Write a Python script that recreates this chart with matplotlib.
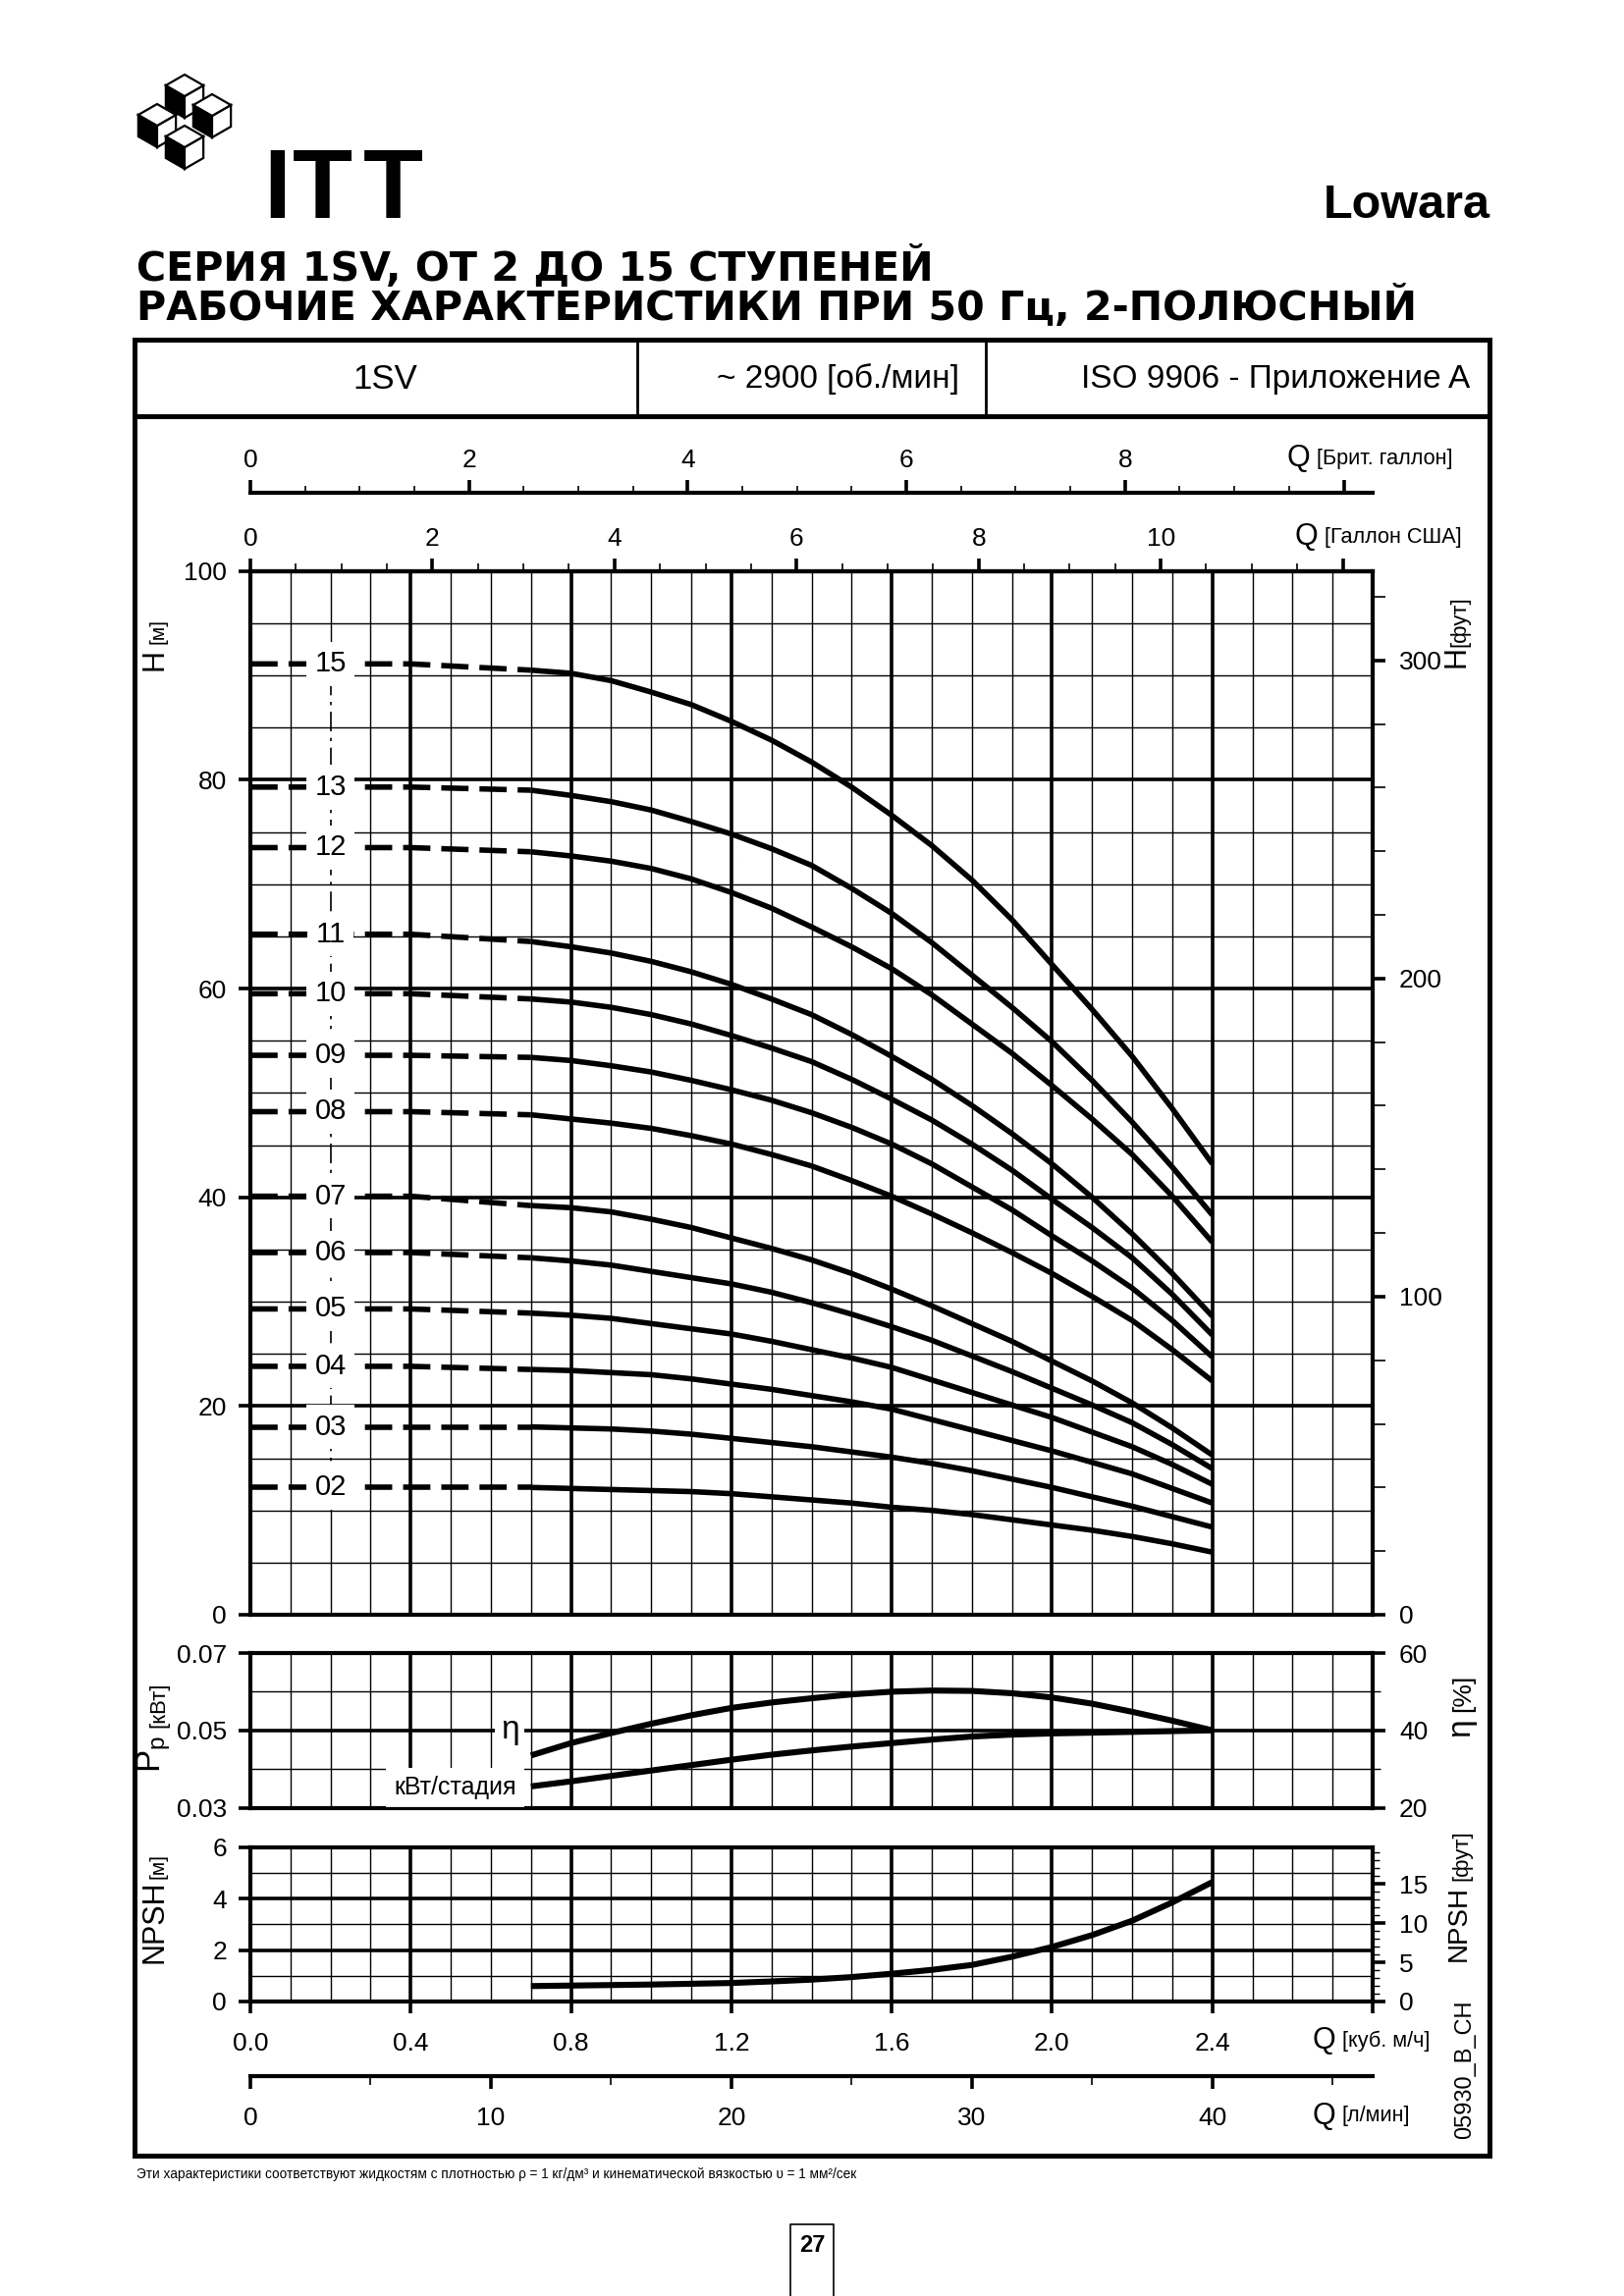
import matplotlib.pyplot as plt
import numpy as np
from matplotlib.patches import Polygon, Rectangle

plt.rcParams['font.family'] = ['Liberation Sans', 'DejaVu Sans']
plt.rcParams['mathtext.default'] = 'regular'
NARROW = ['Liberation Sans Narrow', 'Liberation Sans', 'DejaVu Sans']

W, H = 1654, 2339
PT = 72 / 200  # пункты на пиксель при dpi=200

# ---------------- данные ----------------
# подача, м3/ч (рабочая часть кривых)
q = [0.7, 0.8, 0.9, 1.0, 1.1, 1.2, 1.3, 1.4, 1.5, 1.6, 1.7, 1.8, 1.9, 2.0, 2.1, 2.2, 2.3, 2.4]
q_dash = [0.0, 0.4, 0.7]

stages = ['15', '13', '12', '11', '10', '09', '08', '07', '06', '05', '04', '03', '02']
h_zero = [91.1, 79.3, 73.5, 65.2, 59.5, 53.6, 48.2, 40.1, 34.7, 29.3, 23.8, 18.0, 12.2]

h_15 = [90.5, 90.2, 89.5, 88.4, 87.2, 85.6, 83.8, 81.7, 79.3, 76.6, 73.7, 70.4, 66.6, 62.3, 58.0, 53.5, 48.5, 43.2]
h_13 = [79.0, 78.5, 77.9, 77.1, 76.0, 74.8, 73.4, 71.8, 69.6, 67.2, 64.4, 61.3, 58.2, 54.9, 51.2, 47.2, 42.9, 38.3]
h_12 = [73.1, 72.7, 72.2, 71.5, 70.5, 69.2, 67.7, 65.9, 64.0, 61.9, 59.4, 56.6, 53.8, 50.7, 47.5, 44.1, 40.1, 35.7]
h_11 = [64.5, 64.0, 63.4, 62.6, 61.6, 60.4, 59.0, 57.5, 55.6, 53.5, 51.3, 48.8, 46.1, 43.2, 40.0, 36.5, 32.7, 28.6]
h_10 = [59.0, 58.7, 58.2, 57.5, 56.6, 55.5, 54.3, 53.0, 51.3, 49.4, 47.4, 45.1, 42.6, 39.8, 37.1, 34.2, 30.7, 26.8]
h_09 = [53.4, 53.1, 52.6, 52.0, 51.2, 50.3, 49.3, 48.1, 46.7, 45.1, 43.2, 41.0, 38.8, 36.3, 33.9, 31.3, 28.2, 24.7]
h_08 = [47.9, 47.5, 47.1, 46.6, 45.9, 45.1, 44.1, 43.0, 41.6, 40.1, 38.4, 36.6, 34.7, 32.7, 30.5, 28.2, 25.4, 22.4]
h_07 = [39.2, 39.0, 38.6, 37.9, 37.1, 36.1, 35.1, 34.0, 32.7, 31.2, 29.6, 27.9, 26.2, 24.3, 22.4, 20.3, 17.9, 15.3]
h_06 = [34.2, 33.9, 33.5, 32.9, 32.3, 31.7, 30.9, 29.9, 28.8, 27.6, 26.3, 24.8, 23.3, 21.7, 20.1, 18.4, 16.3, 14.0]
h_05 = [28.9, 28.7, 28.4, 27.9, 27.4, 26.9, 26.2, 25.4, 24.6, 23.7, 22.5, 21.3, 20.1, 18.9, 17.5, 16.1, 14.4, 12.5]
h_04 = [23.5, 23.4, 23.2, 23.0, 22.6, 22.1, 21.6, 21.0, 20.4, 19.7, 18.7, 17.7, 16.7, 15.7, 14.6, 13.5, 12.1, 10.7]
h_03 = [18.0, 17.9, 17.8, 17.6, 17.3, 16.9, 16.5, 16.1, 15.6, 15.1, 14.5, 13.8, 13.0, 12.2, 11.3, 10.4, 9.4, 8.4]
h_02 = [12.2, 12.1, 12.0, 11.9, 11.8, 11.6, 11.3, 11.0, 10.7, 10.3, 10.0, 9.6, 9.1, 8.6, 8.1, 7.5, 6.8, 6.0]
heads = [h_15, h_13, h_12, h_11, h_10, h_09, h_08, h_07, h_06, h_05, h_04, h_03, h_02]

eta = [33.5, 36.7, 39.3, 41.7, 43.9, 45.8, 47.2, 48.3, 49.3, 50.0, 50.3, 50.2, 49.6, 48.5, 46.9, 44.8, 42.5, 40.0]  # %
p_stage = [0.0355, 0.0368, 0.0382, 0.0396, 0.0410, 0.0424, 0.0437, 0.0448, 0.0458, 0.0467,
           0.0476, 0.0484, 0.0489, 0.0492, 0.0494, 0.0496, 0.0498, 0.0500]  # кВт
npsh = [0.60, 0.62, 0.64, 0.66, 0.69, 0.72, 0.78, 0.85, 0.95, 1.08, 1.23, 1.42, 1.74, 2.12, 2.58, 3.14, 3.85, 4.64]  # м

# пересчёт единиц
M3H_USG = 4.403
M3H_IMPG = 3.666
M3H_LMIN = 16.667
M_FT = 1 / 0.3048

fig = plt.figure(figsize=(W / 200, H / 200), dpi=200)

# страница в пиксельных координатах
pg = fig.add_axes([0, 0, 1, 1])
pg.set_xlim(0, W)
pg.set_ylim(H, 0)
pg.axis('off')


def px_axes(x0, y0, x1, y1):
    return fig.add_axes([x0 / W, 1 - y1 / H, (x1 - x0) / W, (y1 - y0) / H])


# --- логотип ---
def cube(cx, cy, s):
    k = 0.87 * s
    top = [(cx, cy - s), (cx + k, cy - s / 2), (cx, cy), (cx - k, cy - s / 2)]
    left = [(cx - k, cy - s / 2), (cx, cy), (cx, cy + s), (cx - k, cy + s / 2)]
    right = [(cx, cy), (cx + k, cy - s / 2), (cx + k, cy + s / 2), (cx, cy + s)]
    pg.add_patch(Polygon(left, closed=True, fc='black', ec='black', lw=0.8))
    pg.add_patch(Polygon(right, closed=True, fc='white', ec='black', lw=0.8))
    pg.add_patch(Polygon(top, closed=True, fc='white', ec='black', lw=0.8))


for cx, cy in [(188, 98), (160, 128), (216, 118), (188, 150)]:
    cube(cx, cy, 22)

# буквы ITT с разрядкой
for x, ch in [(268, 'I'), (298, 'T'), (370, 'T')]:
    pg.text(x, 222, ch, fontsize=36, fontweight='bold', va='baseline', ha='left')
pg.text(1518, 222, 'Lowara', fontsize=17.5, fontweight='bold', va='baseline', ha='right')
pg.text(139, 273, 'СЕРИЯ 1SV, ОТ 2 ДО 15 СТУПЕНЕЙ', fontsize=14.8, fontweight='bold',
        family='DejaVu Sans', va='center', ha='left')
pg.text(139, 313, 'РАБОЧИЕ ХАРАКТЕРИСТИКИ ПРИ 50 Гц, 2-ПОЛЮСНЫЙ', fontsize=14.8, fontweight='bold',
        family='DejaVu Sans', va='center', ha='left')

# --- рамка и шапка ---
pg.add_patch(Rectangle((137, 346), 1517 - 137, 2196 - 346, fill=False, ec='black', lw=1.8))
pg.plot([137, 1517], [424, 424], color='black', lw=1.8)
pg.plot([649, 649], [346, 424], color='black', lw=1.0)
pg.plot([1004, 1004], [346, 424], color='black', lw=1.0)
pg.text(392, 386, '1SV', fontsize=12.5, family=NARROW, ha='center', va='center')
pg.text(853, 386, '~ 2900 [об./мин]', fontsize=12, family=NARROW, ha='center', va='center')
pg.text(1299, 386, 'ISO 9906 - Приложение A', fontsize=12, family=NARROW, ha='center', va='center')


def unit_label(x, y, q_text, unit):
    pg.text(x, y, q_text, fontsize=11, ha='left', va='center')
    pg.text(x + 31, y, unit, fontsize=7.8, family=NARROW, ha='left', va='center')


unit_label(1310, 467, 'Q', '[Брит. галлон]')
unit_label(1318, 547, 'Q', '[Галлон США]')
unit_label(1336, 2079, 'Q', '[куб. м/ч]')
unit_label(1336, 2156, 'Q', '[л/мин]')

# подписи осей
pg.text(157, 672, 'H', fontsize=11, rotation=90, ha='center', va='center')
pg.text(161, 643, '[м]', fontsize=7.5, rotation=90, ha='center', va='center')
pg.text(1484, 669, 'H', fontsize=11, rotation=90, ha='center', va='center')
pg.text(1487, 633, '[фут]', fontsize=8, rotation=90, ha='center', va='center')
pg.text(157, 1787, '$P_p$', fontsize=12.5, rotation=90, ha='center', va='center')
pg.text(162, 1737, '[кВт]', fontsize=8, rotation=90, ha='center', va='center')
pg.text(1488, 1760, 'η', fontsize=12, rotation=90, ha='center', va='center')
pg.text(1490, 1725, '[%]', fontsize=9.5, rotation=90, ha='center', va='center')
pg.text(157, 1958, 'NPSH', fontsize=11, family=NARROW, rotation=90, ha='center', va='center')
pg.text(161, 1901, '[м]', fontsize=7.5, rotation=90, ha='center', va='center')
pg.text(1486, 1960, 'NPSH', fontsize=10, family=NARROW, rotation=90, ha='center', va='center')
pg.text(1489, 1890, '[фут]', fontsize=8, rotation=90, ha='center', va='center')
pg.text(1492, 2108, '05930_B_CH', fontsize=8.5, rotation=90, ha='center', va='center')

pg.text(139, 2215, 'Эти характеристики соответствуют жидкостям с плотностью ρ = 1 кг/дм³ '
        'и кинематической вязкостью υ = 1 мм²/сек', fontsize=4.9, family=NARROW,
        ha='left', va='center')

# номер страницы
pg.plot([805, 805, 849, 849], [2339, 2266, 2266, 2339], color='black', lw=0.6)
pg.text(827, 2287, '27', fontsize=8.5, fontweight='bold', ha='center', va='center')

THICK, THIN, CURVE = 1.3, 0.5, 2.0


def vgrid(ax, skip=()):
    for i in range(1, 28):
        if i in skip:
            continue
        ax.axvline(i / 10, color='black', lw=THICK if i % 4 == 0 else THIN, zorder=1)


def style(ax):
    for s in ax.spines.values():
        s.set_linewidth(1.5)
    ax.set_xlim(0, 2.8)


def left_ticks(ax):
    ax.tick_params(axis='y', which='major', length=12 * PT, width=THICK, labelsize=9.5, pad=4.3)


def right_ticks(ax, minor_w=0.6, minor_len=13):
    ax.tick_params(axis='y', which='major', length=13 * PT, width=THICK, labelsize=9.5, pad=5)
    ax.tick_params(axis='y', which='minor', length=minor_len * PT, width=minor_w)


# --- основной график H(Q) ---
ax_h = px_axes(255, 581.7, 1398, 1645)
style(ax_h)
ax_h.set_ylim(0, 100)
ax_h.set_xticks([])
ax_h.set_yticks(range(0, 101, 20))
left_ticks(ax_h)
vgrid(ax_h, skip=(2,))
for j in range(1, 20):
    ax_h.axhline(5 * j, color='black', lw=THICK if j % 4 == 0 else THIN, zorder=1)
# вертикаль Q=0.2 с подписями ступеней
ax_h.plot([0.2, 0.2], [0, min(h_zero)], color='black', lw=THIN, zorder=1)
ax_h.plot([0.2, 0.2], [max(h_zero), 100], color='black', lw=THIN, zorder=1)
ax_h.plot([0.2, 0.2], [min(h_zero), max(h_zero)], color='black', lw=0.6,
          ls=(0, (12, 4, 2, 4)), zorder=1.5)

for name, h0, hs in zip(stages, h_zero, heads):
    ax_h.plot(q_dash, [h0, h0, hs[0]], color='black', lw=CURVE, ls=(0, (5, 2)), zorder=3)
    ax_h.plot(q, hs, color='black', lw=CURVE, solid_capstyle='butt', solid_joinstyle='round', zorder=3)
    ax_h.text(0.2, h0, name, fontsize=10.5, ha='center', va='center', zorder=4,
              bbox=dict(facecolor='white', edgecolor='none', pad=3))

ax_hf = ax_h.twinx()
ax_hf.set_ylim(0, 100 * M_FT)
ax_hf.set_yticks([0, 100, 200, 300])
ax_hf.set_yticks(np.arange(0, 321, 20), minor=True)
right_ticks(ax_hf)

sec = ax_h.secondary_xaxis('top', functions=(lambda x: x * M3H_USG, lambda g: g / M3H_USG))
sec.set_xticks(range(0, 13, 2), labels=['0', '2', '4', '6', '8', '10', ''])
sec.set_xticks(np.arange(0, 12.1, 0.5), minor=True)
sec.tick_params(which='major', length=12.7 * PT, width=THICK, labelsize=9.5, pad=3)
sec.tick_params(which='minor', length=7.7 * PT, width=0.6)
sec.spines['top'].set_linewidth(1.5)

# шкала британских галлонов
ax_b = px_axes(255, 502, 1398, 503)
ax_b.set_xlim(0, 2.8 * M3H_IMPG)
for s in ['left', 'right', 'bottom']:
    ax_b.spines[s].set_visible(False)
ax_b.spines['top'].set_linewidth(1.5)
ax_b.patch.set_visible(False)
ax_b.set_yticks([])
ax_b.xaxis.tick_top()
ax_b.set_xticks(range(0, 11, 2), labels=['0', '2', '4', '6', '8', ''])
ax_b.set_xticks(np.arange(0, 10.1, 0.5), minor=True)
ax_b.tick_params(which='major', length=12.7 * PT, width=THICK, labelsize=9.5, pad=3)
ax_b.tick_params(which='minor', length=7 * PT, width=0.6)

# --- мощность и КПД ---
ax_p = px_axes(255, 1684, 1398, 1841.5)
style(ax_p)
ax_p.set_ylim(0.03, 0.07)
ax_p.set_xticks([])
ax_p.set_yticks([0.03, 0.05, 0.07], labels=['0.03', '0.05', '0.07'])
left_ticks(ax_p)
vgrid(ax_p)
ax_p.axhline(0.04, color='black', lw=THIN, zorder=1)
ax_p.axhline(0.05, color='black', lw=THICK, zorder=1)
ax_p.axhline(0.06, color='black', lw=THIN, zorder=1)
ax_p.plot(q, p_stage, color='black', lw=2.2, solid_capstyle='butt', solid_joinstyle='round', zorder=3)
ax_p.text(0.647, 0.0501, 'η', fontsize=12, ha='center', va='center', zorder=4,
          bbox=dict(facecolor='white', edgecolor='none', pad=2))
ax_p.text(0.664, 0.0351, 'кВт/стадия', fontsize=9, family=NARROW, ha='right', va='center',
          zorder=4, bbox=dict(facecolor='white', edgecolor='none', pad=3))

ax_e = ax_p.twinx()
ax_e.set_ylim(20, 60)
ax_e.set_yticks([20, 40, 60])
ax_e.set_yticks([30, 50], minor=True)
right_ticks(ax_e, minor_w=THIN, minor_len=8)
ax_e.plot(q, eta, color='black', lw=2.2, solid_capstyle='butt', solid_joinstyle='round', zorder=3)

# --- NPSH ---
ax_n = px_axes(255, 1881.7, 1398, 2039)
style(ax_n)
ax_n.set_ylim(0, 6)
ax_n.set_yticks([0, 2, 4, 6])
left_ticks(ax_n)
vgrid(ax_n)
for j in range(1, 6):
    ax_n.axhline(j, color='black', lw=THICK if j % 2 == 0 else THIN, zorder=1)
ax_n.plot(q, npsh, color='black', lw=2.2, solid_capstyle='butt', solid_joinstyle='round', zorder=3)
ax_n.set_xticks(np.arange(0, 2.81, 0.4),
                labels=['0.0', '0.4', '0.8', '1.2', '1.6', '2.0', '2.4', ''])
ax_n.tick_params(axis='x', length=12 * PT, width=THICK, labelsize=9.5, pad=7)

ax_nf = ax_n.twinx()
ax_nf.set_ylim(0, 6 * M_FT)
ax_nf.set_yticks([0, 5, 10, 15])
ax_nf.set_yticks(range(0, 20), minor=True)
right_ticks(ax_nf, minor_w=THIN, minor_len=7)

# шкала л/мин
ax_l = px_axes(255, 2114, 1398, 2115)
ax_l.set_xlim(0, 2.8 * M3H_LMIN)
for s in ['left', 'right', 'top']:
    ax_l.spines[s].set_visible(False)
ax_l.spines['bottom'].set_linewidth(1.5)
ax_l.patch.set_visible(False)
ax_l.set_yticks([])
ax_l.set_xticks([0, 10, 20, 30, 40])
ax_l.set_xticks(np.arange(0, 46, 5), minor=True)
ax_l.tick_params(which='major', length=13 * PT, width=THICK, labelsize=9.5, pad=6.5)
ax_l.tick_params(which='minor', length=9 * PT, width=0.6)

fig.savefig('out.png', dpi=200)
